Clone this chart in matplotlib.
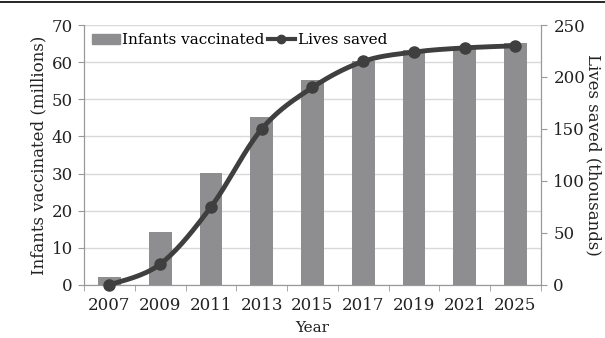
import matplotlib.pyplot as plt
import numpy as np
from matplotlib.lines import Line2D

years = ['2007', '2009', '2011', '2013', '2015', '2017', '2019', '2021', '2025']
infants = [2.2, 14.2, 30.2, 45.3, 55.3, 60.2, 63.3, 64.2, 65.2]   # millions
lives = [0, 20, 75, 150, 190, 215, 224, 228, 230]                  # thousands

plt.rcParams['font.family'] = ['DejaVu Serif']
plt.rcParams['font.size'] = 12

fig = plt.figure(figsize=(6.05, 3.38), dpi=100)
ax = fig.add_axes([0.139, 0.157, 0.755, 0.769])
ax2 = ax.twinx()

x = np.arange(len(years))
ax.bar(x, infants, width=0.45, color='#8e8e90', zorder=2)
ax.set_ylim(0, 70)
ax.set_yticks(range(0, 71, 10))
ax.set_xlim(-0.5, len(years) - 0.5)
ax.set_xticks(x)
ax.set_xticklabels(years)
ax.set_xticks(np.arange(-0.5, len(years), 1), minor=True)
ax.tick_params(axis='x', which='major', length=0, pad=9, labelcolor='#222222')
ax.tick_params(axis='x', which='minor', length=4, color='#999999')
ax.tick_params(axis='y', length=4, color='#999999', pad=4, labelcolor='#222222')
ax.grid(axis='y', color='#d9d9d9', lw=1, zorder=0)
ax.set_axisbelow(True)
ax.set_ylabel('Infants vaccinated (millions)', fontsize=12, labelpad=3, color='#222222')
ax.set_xlabel('Year', fontsize=11, labelpad=5, color='#222222')

# smooth curve through the points (Catmull-Rom)
p = np.column_stack([x, lives]).astype(float)
pts = np.vstack([p[0], p, p[-1]])
cx, cy = [], []
t = np.linspace(0, 1, 20)
for i in range(1, len(pts) - 2):
    p0, p1, p2, p3 = pts[i - 1], pts[i], pts[i + 1], pts[i + 2]
    for tt in t:
        c = 0.5 * (2 * p1 + (-p0 + p2) * tt + (2 * p0 - 5 * p1 + 4 * p2 - p3) * tt ** 2
                   + (-p0 + 3 * p1 - 3 * p2 + p3) * tt ** 3)
        cx.append(c[0]); cy.append(c[1])
ax2.plot(cx, cy, color='#3f3f3f', lw=3.5, zorder=3, clip_on=False)
ax2.plot(x, lives, 'o', color='#3f3f3f', ms=8, zorder=4, clip_on=False)
ax2.set_ylim(0, 250)
ax2.set_yticks(range(0, 251, 50))
ax2.tick_params(axis='y', length=4, color='#999999', pad=5, labelcolor='#222222')
ax2.set_ylabel('Lives saved (thousands)', fontsize=12, rotation=270, labelpad=12,
               color='#222222')

for a in (ax, ax2):
    for s in a.spines.values():
        s.set_color('#999999')
    a.spines['top'].set_visible(False)

handles = [plt.Rectangle((0, 0), 1, 1, color='#8e8e90'),
           Line2D([], [], color='#3f3f3f', lw=3, marker='o', ms=6)]
ax2.legend(handles, ['Infants vaccinated', 'Lives saved'], loc='upper left',
           bbox_to_anchor=(0.0, 1.0), ncol=2, frameon=False, fontsize=11,
           handlelength=1.8, handletextpad=0.15, columnspacing=0.2,
           borderaxespad=0.15)

fig.add_artist(Line2D([0, 1], [0.994, 0.994], color='black', lw=1.2))

fig.savefig('out.png', dpi=100)
